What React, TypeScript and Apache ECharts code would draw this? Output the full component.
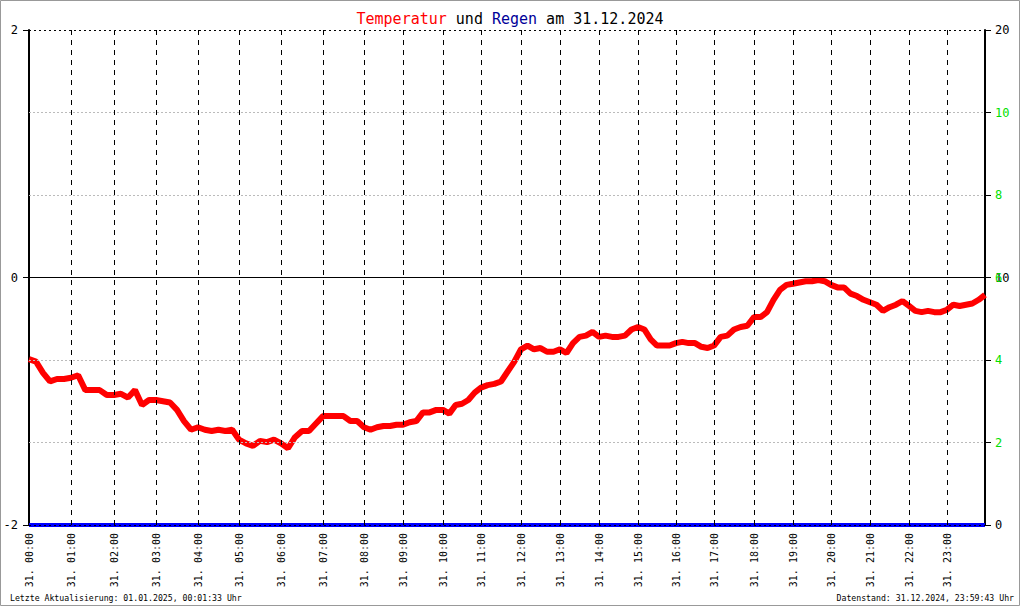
import React, { useEffect, useRef } from "react";
import * as echarts from "echarts";

const FONT = '"DejaVu Sans Mono", monospace';

const titleText = "{r|Temperatur} und {b|Regen} am 31.12.2024";
const footerLeft = "Letzte Aktualisierung: 01.01.2025, 00:01:33 Uhr";
const footerRight = "Datenstand: 31.12.2024, 23:59:43 Uhr";
const dayPrefix = "31. ";

const hourLabels = [
  "00:00", "01:00", "02:00", "03:00", "04:00", "05:00", "06:00", "07:00",
  "08:00", "09:00", "10:00", "11:00", "12:00", "13:00", "14:00", "15:00",
  "16:00", "17:00", "18:00", "19:00", "20:00", "21:00", "22:00", "23:00",
];

// number of logged samples in each hour (the x axis runs over the sample index)
const samplesPerHour = [
  42, 43, 42, 42, 41, 42, 42, 41, 39, 40, 38, 40,
  39, 39, 39, 38, 38, 40, 39, 38, 39, 39, 38, 38,
];

// temperature every 10 minutes, 00:00 ... 24:00 (°C)
const readingsPerHour = 6;
const temperature = [
  -0.66, -0.68, -0.77, -0.84, -0.82, -0.82,
  -0.81, -0.79, -0.91, -0.91, -0.91, -0.95,
  -0.95, -0.94, -0.97, -0.91, -1.03, -0.99,
  -0.99, -1.0, -1.01, -1.07, -1.16, -1.23,
  -1.21, -1.23, -1.24, -1.23, -1.24, -1.23,
  -1.31, -1.34, -1.36, -1.32, -1.33, -1.31,
  -1.34, -1.38, -1.29, -1.24, -1.24, -1.18,
  -1.12, -1.12, -1.12, -1.12, -1.16, -1.16,
  -1.21, -1.23, -1.21, -1.2, -1.2, -1.19,
  -1.19, -1.17, -1.16, -1.09, -1.09, -1.07,
  -1.07, -1.1, -1.03, -1.02, -0.99, -0.93,
  -0.89, -0.87, -0.86, -0.84, -0.76, -0.68,
  -0.58, -0.55, -0.58, -0.57, -0.6, -0.6,
  -0.58, -0.61, -0.53, -0.48, -0.47, -0.44,
  -0.48, -0.47, -0.48, -0.48, -0.47, -0.42,
  -0.4, -0.42, -0.5, -0.55, -0.55, -0.55,
  -0.53, -0.52, -0.53, -0.53, -0.56, -0.57,
  -0.55, -0.48, -0.47, -0.42, -0.4, -0.39,
  -0.32, -0.32, -0.28, -0.18, -0.1, -0.06,
  -0.05, -0.04, -0.03, -0.03, -0.02, -0.03,
  -0.06, -0.08, -0.08, -0.13, -0.15, -0.18,
  -0.2, -0.22, -0.27, -0.24, -0.22, -0.19,
  -0.23, -0.27, -0.28, -0.27, -0.28, -0.28,
  -0.26, -0.22, -0.23, -0.22, -0.21, -0.18,
  -0.14,
];

// rain per hour (mm), all zero
const rain = [0, 0, 0, 0, 0, 0, 0, 0, 0, 0, 0, 0, 0, 0, 0, 0, 0, 0, 0, 0, 0, 0, 0, 0, 0];

const tempAxis = { min: -2, max: 2, interval: 2 };
const rainAxis = { min: 0, max: 20, interval: 10 };
const greenAxis = { min: 0, max: 12, interval: 2 };
const greenGridValues = [2, 4, 8, 10];

export default function App() {
  const ref = useRef<HTMLDivElement>(null);

  useEffect(() => {
    document.body.style.margin = "0";
    if (!ref.current) return;
    const chart = echarts.init(ref.current, null, { renderer: "svg" });

    const hourStart: number[] = [0];
    samplesPerHour.forEach((n, i) => hourStart.push(hourStart[i] + n));
    const total = hourStart[hourStart.length - 1];

    const timeToIndex = (i: number) => {
      const h = Math.floor(i / readingsPerHour);
      if (h >= samplesPerHour.length) return total;
      const f = (i % readingsPerHour) / readingsPerHour;
      return hourStart[h] + samplesPerHour[h] * f;
    };

    const tempData = temperature.map((t, i) => [timeToIndex(i), t]);
    const rainData = rain.map((r, h) => [hourStart[h], r]);
    const labelValues = hourStart.slice(0, hourLabels.length);

    const option: any = {
      animation: false,
      textStyle: { fontFamily: FONT },
      title: {
        text: titleText,
        left: "center",
        top: 6,
        textStyle: {
          fontFamily: FONT,
          fontSize: 15,
          fontWeight: "normal",
          color: "#000",
          rich: {
            r: { color: "#ff0000", fontFamily: FONT, fontSize: 15 },
            b: { color: "#000099", fontFamily: FONT, fontSize: 15 },
          },
        },
      },
      grid: { left: 29, right: 35, top: 30, bottom: 81, containLabel: false },
      xAxis: {
        type: "value",
        min: 0,
        max: total,
        axisLine: { show: false },
        axisTick: { show: false },
        splitLine: { show: false },
        axisLabel: {
          customValues: labelValues,
          rotate: 90,
          margin: 8,
          fontSize: 10,
          fontFamily: FONT,
          color: "#000",
          formatter: (v: number) => {
            const k = labelValues.indexOf(v);
            return k >= 0 ? dayPrefix + hourLabels[k] : "";
          },
        },
      },
      yAxis: [
        {
          type: "value",
          position: "left",
          ...tempAxis,
          axisLine: { show: true, lineStyle: { color: "#000", width: 2 } },
          axisTick: { show: true, length: 6, lineStyle: { color: "#000" } },
          axisLabel: { color: "#000", fontSize: 12, fontFamily: FONT, margin: 11 },
          splitLine: { show: false },
        },
        {
          type: "value",
          position: "right",
          ...rainAxis,
          axisLine: { show: true, onZero: false, lineStyle: { color: "#000", width: 2 } },
          axisTick: { show: true, length: 6, lineStyle: { color: "#000" } },
          axisLabel: { color: "#000", fontSize: 12, fontFamily: FONT, margin: 10 },
          splitLine: { show: false },
        },
        {
          type: "value",
          position: "right",
          ...greenAxis,
          axisLine: { show: false },
          axisTick: { show: true, length: 6, lineStyle: { color: "#000" } },
          axisLabel: {
            color: "#00e000",
            fontSize: 12,
            fontFamily: FONT,
            margin: 10,
            showMinLabel: false,
            showMaxLabel: false,
          },
          splitLine: { show: false },
        },
      ],
      graphic: [
        {
          type: "rect",
          shape: { x: 0.5, y: 0.5, width: 1019, height: 605 },
          style: { fill: "none", stroke: "#999", lineWidth: 1 },
          silent: true,
        },
        {
          type: "text",
          left: 10,
          top: 594,
          style: { text: footerLeft, font: `8.2px ${FONT}`, fill: "#000" },
        },
        {
          type: "text",
          right: 6,
          top: 594,
          style: { text: footerRight, font: `8.2px ${FONT}`, fill: "#000" },
        },
      ],
      series: [
        {
          name: "greenGrid",
          type: "line",
          yAxisIndex: 2,
          data: [],
          z: 1,
          silent: true,
          markLine: {
            silent: true,
            symbol: "none",
            label: { show: false },
            lineStyle: { color: "#bbbbbb", type: [2, 2], width: 1 },
            data: greenGridValues.map((v) => ({ yAxis: v })),
          },
        },
        {
          name: "hourGrid",
          type: "line",
          yAxisIndex: 0,
          data: [],
          z: 2,
          silent: true,
          markLine: {
            silent: true,
            symbol: "none",
            label: { show: false },
            data: [
              ...hourStart.slice(1, hourLabels.length).map((x) => ({
                xAxis: x,
                lineStyle: { color: "#000", type: [5, 5], width: 1 },
              })),
              { yAxis: 0, lineStyle: { color: "#000", type: "solid", width: 1.2 } },
              { yAxis: tempAxis.max, lineStyle: { color: "#000", type: [2, 3], width: 1 } },
            ],
          },
        },
        {
          name: "Temperatur",
          type: "line",
          yAxisIndex: 0,
          data: tempData,
          showSymbol: false,
          z: 3,
          lineStyle: { color: "#ff0000", width: 6 },
          itemStyle: { color: "#ff0000" },
        },
        {
          name: "Regen",
          type: "line",
          yAxisIndex: 1,
          data: [...rainData, [total, rain[rain.length - 1]]],
          showSymbol: false,
          z: 4,
          lineStyle: { color: "#0000ff", width: 4 },
          itemStyle: { color: "#0000ff" },
        },
        {
          name: "bottomGrid",
          type: "line",
          yAxisIndex: 1,
          data: [],
          z: 5,
          silent: true,
          markLine: {
            silent: true,
            symbol: "none",
            label: { show: false },
            lineStyle: { color: "#000", type: [2, 3], width: 1 },
            data: [{ yAxis: rainAxis.min }],
          },
        },
      ],
    };

    chart.setOption(option);
    return () => chart.dispose();
  }, []);

  return <div ref={ref} style={{ width: 1020, height: 606 }} />;
}
